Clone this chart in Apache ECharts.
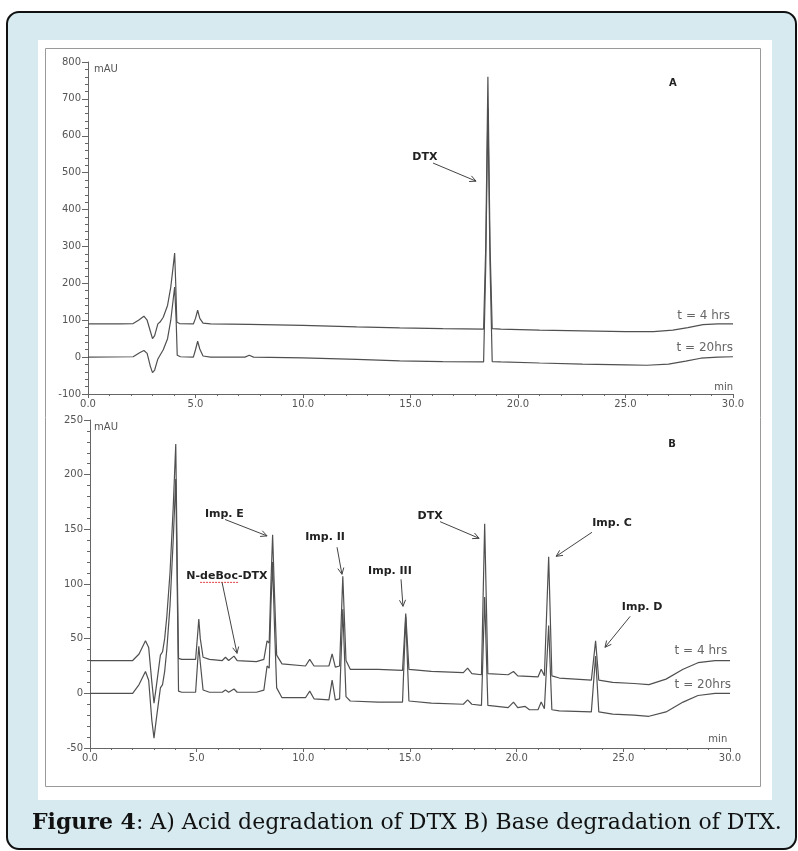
<!DOCTYPE html>
<html><head><meta charset="utf-8">
<script src="https://cdn.jsdelivr.net/npm/echarts@6/dist/echarts.min.js"></script>
<style>html,body{margin:0;padding:0;background:#fff}#c{width:798px;height:851px}</style>
</head><body><div id="c"></div>
<script>
// ---------- DATA ----------
const xTickLabels = ['0.0','5.0','10.0','15.0','20.0','25.0','30.0'];

// Panel A (acid), t = 4 hrs
const timeA4 = [0,1.5,2.1,2.35,2.6,2.75,2.9,3.0,3.1,3.25,3.35,3.5,3.7,3.85,3.95,4.03,4.08,4.13,4.25,4.9,5.0,5.1,5.2,5.35,5.7,7.5,10,12.5,14.5,16.5,18.4,18.5,18.6,18.7,18.8,19.2,21,23,25,26.3,27.2,27.9,28.6,29.3,30];
const mauA4  = [90,90,91,100,111,100,70,50,58,90,95,108,140,190,240,282,200,95,91,90,105,127,105,92,90,89,86,82,79,77,76,300,760,300,77,76,73,71,69,69,73,80,88,90,90];
// Panel A (acid), t = 20 hrs
const timeA20 = [0,2.1,2.4,2.6,2.75,2.9,3.0,3.1,3.25,3.35,3.5,3.7,3.85,3.95,4.03,4.1,4.15,4.3,4.9,5.0,5.1,5.2,5.35,5.7,7.3,7.5,7.7,10,12.5,14.5,16.5,18.4,18.5,18.6,18.7,18.8,19.2,21,23,25,26,27,27.8,28.5,29.3,30];
const mauA20  = [0,1,12,18,10,-25,-42,-35,-5,5,20,50,100,150,190,100,5,1,0,20,43,22,3,0,0,5,0,-2,-6,-10,-12,-13,250,675,250,-12,-13,-16,-19,-21,-22,-19,-11,-3,0,1];

// Panel B (base), t = 4 hrs
const timeB4 = [0,2.0,2.3,2.6,2.75,2.9,3.0,3.1,3.3,3.4,3.5,3.6,3.75,3.9,4.02,4.1,4.15,4.3,4.95,5.05,5.1,5.17,5.3,5.6,6.2,6.35,6.5,6.75,6.9,7.8,8.15,8.3,8.4,8.48,8.56,8.65,8.75,9.0,10.1,10.3,10.5,11.2,11.35,11.5,11.7,11.85,12.0,12.2,13.5,14.65,14.8,14.95,16.0,17.5,17.7,17.9,18.35,18.5,18.65,19.6,19.85,20.05,21.0,21.15,21.3,21.5,21.65,22.0,23.5,23.7,23.85,24.5,25.5,26.2,27.0,27.8,28.5,29.3,30];
const mauB4  = [30,30,36,48,42,10,-9,5,35,38,50,70,110,170,228,100,32,31,31,55,68,50,33,31,30,33,30,34,30,29,31,48,46,100,145,90,35,27,25,31,25,25,36,24,25,107,30,22,22,21,73,22,20,19,23,18,17,155,18,17,20,16,15,22,16,125,16,14,12,48,12,10,9,8,13,22,28,30,30];
// Panel B (base), t = 20 hrs
const timeB20 = [0,2.0,2.3,2.6,2.75,2.9,3.0,3.1,3.3,3.4,3.5,3.6,3.75,3.9,4.02,4.1,4.15,4.3,4.95,5.05,5.1,5.17,5.3,5.6,6.2,6.35,6.5,6.75,6.9,7.8,8.15,8.3,8.4,8.48,8.56,8.65,8.75,9.0,10.1,10.3,10.5,11.2,11.35,11.5,11.7,11.85,12.0,12.2,13.5,14.65,14.8,14.95,16.0,17.5,17.7,17.9,18.35,18.5,18.65,19.6,19.85,20.05,20.4,20.6,21.0,21.15,21.3,21.5,21.65,22.0,23.5,23.7,23.85,24.5,25.5,26.2,27.0,27.8,28.5,29.3,30];
const mauB20  = [0,0,8,20,12,-25,-41,-25,5,8,20,40,80,140,196,80,2,1,1,30,43,28,3,1,1,3,1,4,1,1,3,25,23,80,120,60,5,-4,-4,2,-5,-6,12,-6,-5,77,-3,-7,-8,-8,70,-7,-9,-10,-6,-10,-11,88,-11,-13,-8,-13,-12,-15,-15,-8,-14,62,-15,-16,-17,34,-17,-19,-20,-21,-17,-8,-2,0,0];

// ---------- LAYOUT (annotation anchors in data units) ----------
const notesA = [
  {text:'DTX', at:[15.67,542], from:[16.05,526], to:[18.05,477]}
];
const notesB = [
  {text:'Imp. E', at:[6.3,164], from:[6.33,159], to:[8.3,144]},
  {text:'N-deBoc-DTX', at:[6.42,107], from:[6.19,101.5], to:[6.89,36.6]},
  {text:'Imp. II', at:[11.02,143], from:[11.58,133.6], to:[11.81,108.9]},
  {text:'Imp. III', at:[14.06,111.6], from:[14.58,104.3], to:[14.67,79.6]},
  {text:'DTX', at:[15.94,162], from:[16.41,157], to:[18.24,141.8]},
  {text:'Imp. C', at:[24.47,155.5], from:[23.53,147.3], to:[21.85,125.3]},
  {text:'Imp. D', at:[25.88,78.7], from:[25.32,70.4], to:[24.14,42.1]}
];

function pairs(t, v) { return t.map((x, i) => [x, v[i]]); }

const axisColor = '#666';
function xAxisCfg(gi) {
  return {
    gridIndex: gi, type: 'value', min: 0, max: 30, interval: 5,
    axisLine: {show: true, onZero: false, lineStyle: {color: axisColor, width: 1}},
    axisTick: {show: true, length: 4, lineStyle: {color: axisColor}},
    minorTick: {show: true, splitNumber: 5, length: 2, lineStyle: {color: axisColor}},
    splitLine: {show: false},
    axisLabel: {color: '#555', fontSize: 10, fontFamily: 'DejaVu Sans', margin: 5,
      formatter: v => xTickLabels[Math.round(v / 5)]}
  };
}
function yAxisCfg(gi, min, max, interval) {
  return {
    gridIndex: gi, type: 'value', min: min, max: max, interval: interval,
    axisLine: {show: true, onZero: false, lineStyle: {color: axisColor, width: 1}},
    axisTick: {show: true, length: 6, lineStyle: {color: axisColor}},
    minorTick: {show: true, splitNumber: 5, length: 3, lineStyle: {color: axisColor}},
    splitLine: {show: false},
    axisLabel: {color: '#555', fontSize: 10, fontFamily: 'DejaVu Sans', margin: 7}
  };
}
function lineSeries(data, gi) {
  return {type: 'line', data: data, xAxisIndex: gi, yAxisIndex: gi, symbol: 'none', showSymbol: false,
    lineStyle: {color: '#505050', width: 1.2}, z: 5, silent: true, animation: false};
}

const chart = echarts.init(document.getElementById('c'), null, {renderer: 'canvas'});
chart.setOption({
  animation: false,
  backgroundColor: '#fff',
  grid: [
    {left: 88, right: 65, top: 62, height: 332},
    {left: 90, right: 68, top: 420, height: 328}
  ],
  xAxis: [xAxisCfg(0), xAxisCfg(1)],
  yAxis: [yAxisCfg(0, -100, 800, 100), yAxisCfg(1, -50, 250, 50)],
  series: [
    lineSeries(pairs(timeA4, mauA4), 0),
    lineSeries(pairs(timeA20, mauA20), 0),
    lineSeries(pairs(timeB4, mauB4), 1),
    lineSeries(pairs(timeB20, mauB20), 1)
  ]
});

// ---------- GRAPHICS ----------
const els = [];
els.push({type: 'rect', z: -30, shape: {x: 7, y: 12, width: 789, height: 837, r: 12},
  style: {fill: '#d6eaf0', stroke: '#111', lineWidth: 2}});
els.push({type: 'rect', z: -20, shape: {x: 38, y: 40, width: 734, height: 760},
  style: {fill: '#fff'}});
els.push({type: 'rect', z: -10, shape: {x: 45.5, y: 48.5, width: 715, height: 738},
  style: {fill: 'none', stroke: '#9a9a9a', lineWidth: 1}});

function px(gi, p) { return chart.convertToPixel({xAxisIndex: gi, yAxisIndex: gi}, p); }
function txt(gi, p, text, font, color, align) {
  const q = px(gi, p);
  els.push({type: 'text', z: 20, style: {text: text, x: q[0], y: q[1], font: font, fill: color,
    textAlign: align, align: align, textVerticalAlign: 'middle', verticalAlign: 'middle'}});
}
function arrow(gi, a, b) {
  const p = px(gi, a), q = px(gi, b);
  els.push({type: 'line', z: 20, shape: {x1: p[0], y1: p[1], x2: q[0], y2: q[1]},
    style: {stroke: '#444', lineWidth: 1}});
  const ang = Math.atan2(q[1] - p[1], q[0] - p[0]);
  const L = 7, w = 0.45;
  const h1 = [q[0] - L * Math.cos(ang - w), q[1] - L * Math.sin(ang - w)];
  const h2 = [q[0] - L * Math.cos(ang + w), q[1] - L * Math.sin(ang + w)];
  els.push({type: 'polyline', z: 20, shape: {points: [h1, q, h2]},
    style: {stroke: '#444', lineWidth: 1, fill: null}});
}
const boldFont = 'bold 11px "DejaVu Sans"';
notesA.forEach(n => { txt(0, n.at, n.text, boldFont, '#222', 'center'); arrow(0, n.from, n.to); });
notesB.forEach(n => { txt(1, n.at, n.text, boldFont, '#222', 'center'); arrow(1, n.from, n.to); });
// spell-check underline under "deBoc"
(function () {
  const a = px(1, [5.16, 101.5]), b = px(1, [6.94, 101.5]);
  els.push({type: 'line', z: 19, shape: {x1: a[0], y1: a[1], x2: b[0], y2: b[1]},
    style: {stroke: '#e04040', lineWidth: 1, lineDash: [2, 1]}});
})();

txt(0, [27.2, 742], 'A', 'bold 10px "DejaVu Sans"', '#222', 'center');
txt(1, [27.28, 228], 'B', 'bold 10px "DejaVu Sans"', '#222', 'center');
txt(0, [0.28, 780], 'mAU', '10px "DejaVu Sans"', '#555', 'left');
txt(1, [0.19, 243], 'mAU', '10px "DejaVu Sans"', '#555', 'left');
txt(0, [30, -81], 'min', '10px "DejaVu Sans"', '#555', 'right');
txt(1, [29.87, -42], 'min', '10px "DejaVu Sans"', '#555', 'right');
txt(0, [29.86, 111], 't = 4 hrs', '12px "DejaVu Sans"', '#666', 'right');
txt(0, [30.0, 24], 't = 20hrs', '12px "DejaVu Sans"', '#666', 'right');
txt(1, [29.87, 38.4], 't = 4 hrs', '12px "DejaVu Sans"', '#666', 'right');
txt(1, [30.05, 7.3], 't = 20hrs', '12px "DejaVu Sans"', '#666', 'right');

els.push({type: 'text', z: 20, style: {
  text: '{b|Figure 4}: A) Acid degradation of DTX B) Base degradation of DTX.',
  x: 32, y: 823, font: '22px "DejaVu Serif"', fill: '#111',
  textAlign: 'left', align: 'left', textVerticalAlign: 'middle', verticalAlign: 'middle',
  rich: {b: {font: 'bold 22px "DejaVu Serif"', fill: '#111', fontWeight: 'bold', fontSize: 22, fontFamily: 'DejaVu Serif'}}
}});

chart.setOption({graphic: {elements: els}});
</script></body></html>
